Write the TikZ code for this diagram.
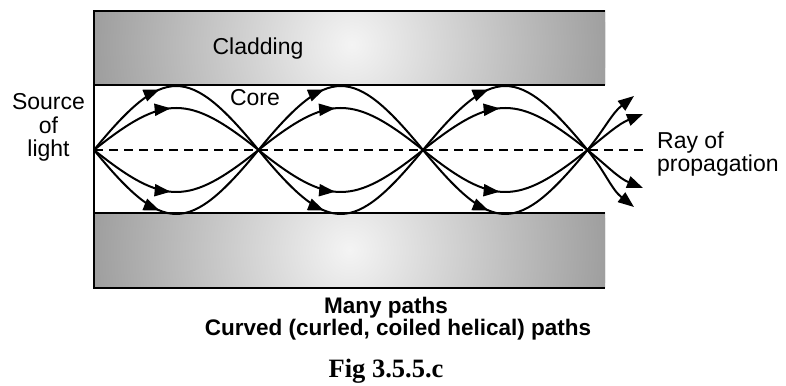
\documentclass[tikz,border=0pt]{standalone}
\usepackage{fontspec}
\setmainfont{Liberation Serif}
\setsansfont{Liberation Sans}
\usetikzlibrary{decorations.markings,arrows.meta}
\begin{document}
\begin{tikzpicture}[x=1pt,y=1pt,
  lbl/.style={font=\sffamily\fontsize{23}{23.5}\selectfont, inner sep=0pt},
  blbl/.style={font=\sffamily\bfseries\fontsize{22.5}{22}\selectfont, inner sep=0pt},
  figlbl/.style={font=\rmfamily\bfseries\fontsize{26.5}{28}\selectfont, inner sep=0pt},
  rayline/.style={line width=2pt},
  tip/.style={-{Triangle[length=16pt,width=12pt]}},
  midarrow/.style={postaction={decorate}, decoration={markings, mark=at position #1 with {\arrow{Triangle[length=16pt,width=12pt]}}}},
  border/.style={line width=2.5pt},
  axisline/.style={line width=1.5pt, dash pattern=on 9pt off 6pt}]
\useasboundingbox (0,0) rectangle (786,385);

% cladding shading (concentric radial fill)
\coordinate (Ctop) at (352,340);
\coordinate (Cbot) at (350,134.5);
\begin{scope}
  \clip (94,300) rectangle (605,374);
  \fill[black!38] (94,300) rectangle (605,374);
  \foreach \r in {260,257,...,2}{
    \pgfmathsetmacro\p{4+34*\r/260}
    \fill[black!\p] (Ctop) circle (\r);
  }
\end{scope}
\begin{scope}
  \clip (94,97) rectangle (605,172);
  \fill[black!38] (94,97) rectangle (605,172);
  \foreach \r in {260,257,...,2}{
    \pgfmathsetmacro\p{4+34*\r/260}
    \fill[black!\p] (Cbot) circle (\r);
  }
\end{scope}

% focal points
\coordinate (F0) at (94,235);
\coordinate (F1) at (258.5,235);
\coordinate (F2) at (423,235);
\coordinate (F3) at (587.5,235);
\coordinate (axisend) at (645,235);
\coordinate (E1) at (634,289);
\coordinate (E2) at (643,271);
\coordinate (E3) at (643,197);
\coordinate (E4) at (634,178);

% axis
\draw[axisline] (F0) -- (axisend);

% rays
\foreach \a/\b in {F0/F1,F1/F2,F2/F3}{
  \draw[rayline, midarrow=0.42] (\a) .. controls +(70,85.3) and +(-70,85.3) .. (\b);
  \draw[rayline, midarrow=0.47] (\a) .. controls +(70,56) and +(-70,56) .. (\b);
  \draw[rayline, midarrow=0.47] (\a) .. controls +(70,-56) and +(-70,-56) .. (\b);
  \draw[rayline, midarrow=0.42] (\a) .. controls +(70,-85.3) and +(-70,-85.3) .. (\b);
}
\draw[rayline, tip] (F3) to[out=51, in=218] (E1);
\draw[rayline, tip] (F3) to[out=39, in=202] (E2);
\draw[rayline, tip] (F3) to[out=-39, in=158] (E3);
\draw[rayline, tip] (F3) to[out=-51, in=142] (E4);

% borders
\draw[line width=1.6pt] (94,374) -- (605,374);
\draw[border] (94,300) -- (605,300);
\draw[border] (94,172) -- (605,172);
\draw[border] (94,97) -- (605,97);
\draw[line width=2pt] (94,374.8) -- (94,95.8);

% labels
\node[lbl, anchor=base] (cladtxt) at (258,330) {Cladding};
\node[lbl, anchor=base] (coretxt) at (255,279) {Core};
\node[lbl, anchor=base, align=center] (src) at (48.5,228) {Source\\of\\light};
\node[lbl, anchor=base west, align=left] (raytxt) at (657,213) {Ray of\\propagation};
\node[blbl, anchor=base] (many) at (386,71) {Many paths};
\node[blbl, anchor=base] (curved) at (398,49) {Curved (curled, coiled helical) paths};
\node[figlbl, anchor=base] (fig) at (386,8) {Fig 3.5.5.c};
\end{tikzpicture}
\end{document}
